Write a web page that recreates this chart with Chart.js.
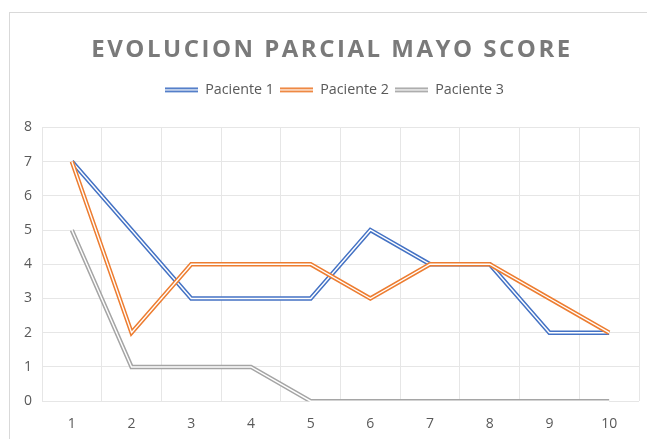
<!DOCTYPE html>
<html>
<head>
<meta charset="utf-8">
<script src="https://cdn.jsdelivr.net/npm/chart.js@4/dist/chart.umd.min.js"></script>
<style>
  html, body { margin: 0; padding: 0; background: #fff; overflow: hidden; }
  #frame { position: absolute; left: 9px; top: 12px; width: 700px; height: 500px; border: 1px solid #d9d9d9; }
  #wrap { position: absolute; left: 0; top: 0; width: 647px; height: 439px; }
</style>
</head>
<body>
<div id="frame"></div>
<div id="wrap"><canvas id="chart" width="647" height="439"></canvas></div>
<script>
const titleText = "EVOLUCION PARCIAL MAYO SCORE";
const categories = ["1", "2", "3", "4", "5", "6", "7", "8", "9", "10"];
const paciente1 = [7, 5, 3, 3, 3, 5, 4, 4, 2, 2];
const paciente2 = [7, 2, 4, 4, 4, 3, 4, 4, 3, 2];
const paciente3 = [5, 1, 1, 1, 0, 0, 0, 0, 0, 0];
const seriesNames = ["Paciente 1", "Paciente 2", "Paciente 3"];
const seriesColors = ["#4472C4", "#ED7D31", "#A5A5A5"];

// small double-line icon for the legend
function legendIcon(color) {
    const c = document.createElement("canvas");
    c.width = 33;
    c.height = 6;
    const g = c.getContext("2d");
    g.fillStyle = color;
    g.fillRect(0, 0.5, 33, 1.7);
    g.fillRect(0, 3.5, 33, 1.7);
    return c;
}

// white stripe down the middle of each line, like Excel's double line
const doubleLine = {
    id: "doubleLine",
    afterDatasetDraw(chart, args) {
        const pts = args.meta.data;
        const ctx = chart.ctx;
        ctx.save();
        ctx.strokeStyle = "#ffffff";
        ctx.lineWidth = 1.4;
        ctx.lineJoin = "miter";
        ctx.beginPath();
        pts.forEach((p, i) => {
            if (i === 0) ctx.moveTo(p.x, p.y);
            else ctx.lineTo(p.x, p.y);
        });
        ctx.stroke();
        ctx.restore();
    }
};

// spaced-out title
const spacedTitle = {
    id: "spacedTitle",
    afterDraw(chart) {
        const ctx = chart.ctx;
        ctx.save();
        ctx.font = "bold 24px 'Open Sans'";
        ctx.letterSpacing = "2.5px";
        ctx.fillStyle = "#7a7a7a";
        ctx.textAlign = "center";
        ctx.textBaseline = "alphabetic";
        ctx.fillText(titleText, 332, 57);
        ctx.restore();
    }
};

// extra room under the legend, and nudge it right a little
const legendGap = {
    id: "legendGap",
    beforeInit(chart) {
        const fit = chart.legend.fit;
        chart.legend.fit = function () {
            fit.bind(chart.legend)();
            this.height += 20;
        };
    },
    afterLayout(chart) {
        chart.legend.left += 8;
        chart.legend.right += 8;
    }
};

const datasets = [paciente1, paciente2, paciente3].map((d, i) => ({
    label: seriesNames[i],
    data: d,
    borderColor: seriesColors[i],
    backgroundColor: seriesColors[i],
    borderWidth: 4.4,
    borderJoinStyle: "miter",
    pointRadius: 0,
    pointHoverRadius: 0,
    pointStyle: legendIcon(seriesColors[i]),
    fill: false,
    tension: 0,
    order: 3 - i
}));

new Chart(document.getElementById("chart"), {
    type: "line",
    data: { labels: categories, datasets: datasets },
    options: {
        responsive: false,
        animation: false,
        layout: { padding: { top: 77, left: 14, right: 8, bottom: -7 } },
        plugins: {
            title: { display: false },
            tooltip: { enabled: false },
            legend: {
                position: "top",
                labels: {
                    usePointStyle: true,
                    pointStyleWidth: 33,
                    boxHeight: 6,
                    padding: 6,
                    color: "#595959",
                    font: { family: "'Open Sans'", size: 14.3 },
                    sort: (a, b) => a.datasetIndex - b.datasetIndex
                }
            }
        },
        scales: {
            x: {
                offset: true,
                grid: { offset: true, color: "#e6e6e6", drawTicks: false },
                border: { display: false },
                ticks: { color: "#595959", padding: 14, font: { family: "'Open Sans'", size: 14 } }
            },
            y: {
                min: 0,
                max: 8,
                grid: { color: "#e6e6e6", drawTicks: false },
                border: { display: false },
                ticks: { stepSize: 1, color: "#595959", padding: 10, font: { family: "'Open Sans'", size: 14 } }
            }
        }
    },
    plugins: [doubleLine, spacedTitle, legendGap]
});
</script>
</body>
</html>
